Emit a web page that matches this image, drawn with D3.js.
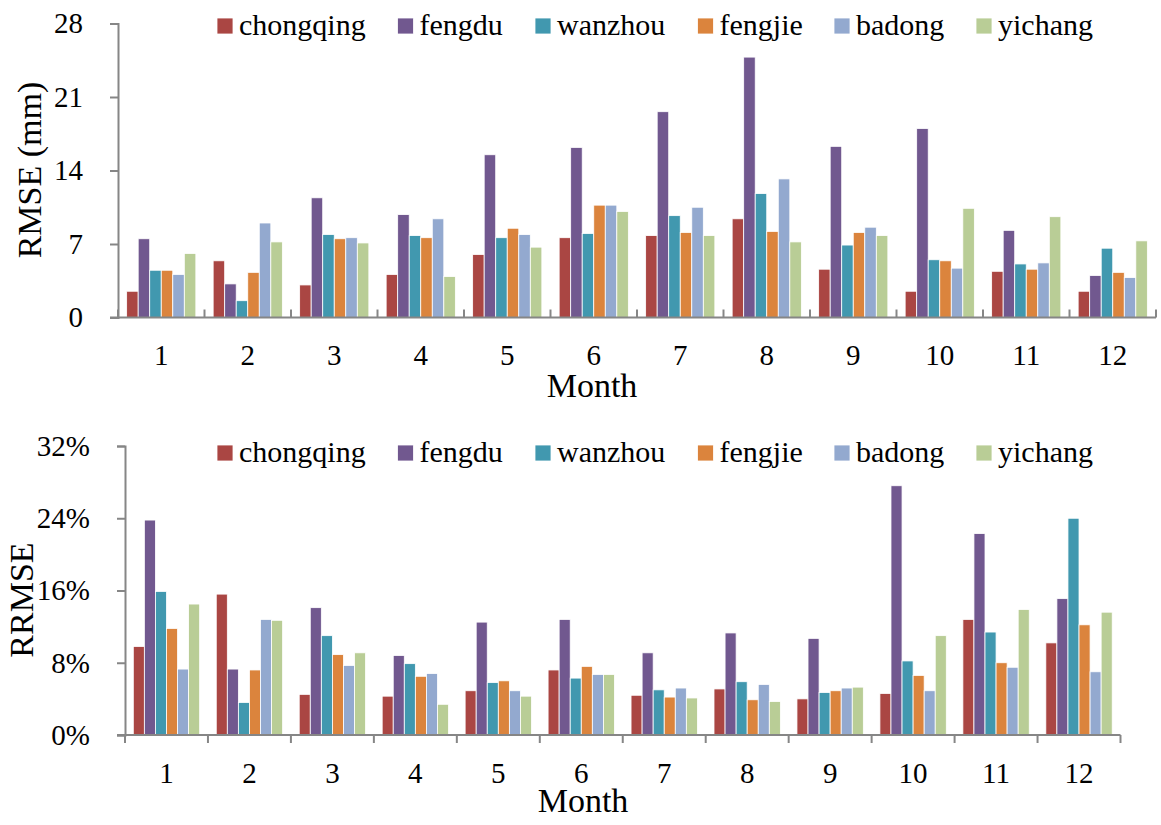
<!DOCTYPE html>
<html>
<head>
<meta charset="utf-8">
<script src="https://cdn.jsdelivr.net/npm/d3@7/dist/d3.min.js"></script>
<style>
  html, body { margin: 0; padding: 0; background: #fff; }
  svg { display: block; }
</style>
</head>
<body>
<svg id="chart" width="1161" height="825"></svg>
<script>
// Monthly error statistics for six stations along the Yangtze
const months = ["1","2","3","4","5","6","7","8","9","10","11","12"];
const stations = ["chongqing","fengdu","wanzhou","fengjie","badong","yichang"];
const stationColors = ["#AA4643","#71588F","#4198AF","#DB843D","#93A9CF","#B9CD96"];

// RMSE (mm), one array per station, month 1..12
const rmseChongqing = [2.5, 5.4, 3.1, 4.1, 6.0, 7.6, 7.8, 9.4, 4.6, 2.5, 4.4, 2.5];
const rmseFengdu    = [7.5, 3.2, 11.4, 9.8, 15.5, 16.2, 19.6, 24.8, 16.3, 18.0, 8.3, 4.0];
const rmseWanzhou   = [4.5, 1.6, 7.9, 7.8, 7.6, 8.0, 9.7, 11.8, 6.9, 5.5, 5.1, 6.6];
const rmseFengjie   = [4.5, 4.3, 7.5, 7.6, 8.5, 10.7, 8.1, 8.2, 8.1, 5.4, 4.6, 4.3];
const rmseBadong    = [4.1, 9.0, 7.6, 9.4, 7.9, 10.7, 10.5, 13.2, 8.6, 4.7, 5.2, 3.8];
const rmseYichang   = [6.1, 7.2, 7.1, 3.9, 6.7, 10.1, 7.8, 7.2, 7.8, 10.4, 9.6, 7.3];

// RRMSE (%), one array per station, month 1..12
const rrmseChongqing = [9.8, 15.6, 4.5, 4.3, 4.9, 7.2, 4.4, 5.1, 4.0, 4.6, 12.8, 10.2];
const rrmseFengdu    = [23.8, 7.3, 14.1, 8.8, 12.5, 12.8, 9.1, 11.3, 10.7, 27.6, 22.3, 15.1];
const rrmseWanzhou   = [15.9, 3.6, 11.0, 7.9, 5.8, 6.3, 5.0, 5.9, 4.7, 8.2, 11.4, 24.0];
const rrmseFengjie   = [11.8, 7.2, 8.9, 6.5, 6.0, 7.6, 4.2, 3.9, 4.9, 6.6, 8.0, 12.2];
const rrmseBadong    = [7.3, 12.8, 7.7, 6.8, 4.9, 6.7, 5.2, 5.6, 5.2, 4.9, 7.5, 7.0];
const rrmseYichang   = [14.5, 12.7, 9.1, 3.4, 4.3, 6.7, 4.1, 3.7, 5.3, 11.0, 13.9, 13.6];

const rmseTicks  = [0, 7, 14, 21, 28];
const rrmseTicks = [0, 8, 16, 24, 32];

const rmseSeries  = [rmseChongqing, rmseFengdu, rmseWanzhou, rmseFengjie, rmseBadong, rmseYichang];
const rrmseSeries = [rrmseChongqing, rrmseFengdu, rrmseWanzhou, rrmseFengjie, rrmseBadong, rrmseYichang];

const FONT = "'Liberation Serif', Tinos, 'Times New Roman', 'Nimbus Roman', 'DejaVu Serif', serif";

const svg = d3.select("#chart");
svg.append("rect").attr("width", 1161).attr("height", 825).attr("fill", "#fff");

const color = d3.scaleOrdinal().domain(stations).range(stationColors);
const AXIS = "#868686";

function label(sel) {
  return sel.style("font-family", FONT).style("fill", "#000");
}

function drawPanel(cfg) {
  const g = svg.append("g");
  const x0 = d3.scaleBand().domain(months).range([cfg.left, cfg.right]).paddingInner(0).paddingOuter(0);
  const bw = x0.bandwidth();
  const gap = bw * 0.2;
  const x1 = d3.scaleBand().domain(stations).range([gap / 2, bw - gap / 2]);
  const y = d3.scaleLinear().domain([cfg.ticks[0], cfg.ticks[cfg.ticks.length - 1]]).range([cfg.bottom, cfg.top]);

  // bars
  stations.forEach((s, si) => {
    g.append("g").selectAll("rect")
      .data(cfg.series[si].map((v, i) => ({ m: months[i], v })))
      .join("rect")
      .attr("x", d => x0(d.m) + x1(s))
      .attr("y", d => y(d.v))
      .attr("width", x1.bandwidth())
      .attr("height", d => y(0) - y(d.v))
      .attr("fill", color(s))
      .attr("stroke", "#ffffff")
      .attr("stroke-width", 0.8);
  });

  // y axis
  const yAxis = d3.axisLeft(y).tickValues(cfg.ticks).tickSize(8).tickPadding(27)
    .tickFormat(cfg.fmt);
  const ya = g.append("g").attr("transform", `translate(${cfg.left},0)`).call(yAxis);
  ya.attr("font-family", null);
  ya.select(".domain").attr("stroke", AXIS).attr("stroke-width", 2);
  ya.selectAll(".tick line").attr("stroke", AXIS).attr("stroke-width", 2);
  label(ya.selectAll(".tick text")).style("font-size", "29px");

  // x axis line with ticks at category boundaries
  const xa = g.append("g");
  xa.append("line")
    .attr("x1", cfg.left - 8).attr("x2", cfg.right)
    .attr("y1", y(0)).attr("y2", y(0))
    .attr("stroke", AXIS).attr("stroke-width", 2);
  const bounds = months.map(m => x0(m)).concat([cfg.right]);
  xa.selectAll("line.bt").data(bounds).join("line")
    .attr("class", "bt")
    .attr("x1", d => d).attr("x2", d => d)
    .attr("y1", y(0)).attr("y2", y(0) + cfg.xTickDir * 8)
    .attr("stroke", AXIS).attr("stroke-width", 2);
  label(xa.selectAll("text").data(months).join("text")
    .attr("x", d => x0(d) + bw / 2)
    .attr("y", cfg.xLabelY)
    .attr("text-anchor", "middle")
    .text(d => d)).style("font-size", "29px");

  // axis titles
  label(g.append("text")
    .attr("x", cfg.monthX).attr("y", cfg.monthY)
    .attr("text-anchor", "middle")
    .text("Month")).style("font-size", "34px");
  label(g.append("text")
    .attr("transform", `translate(${cfg.yTitleX},${cfg.yTitleY}) rotate(-90)`)
    .attr("text-anchor", "middle")
    .text(cfg.yTitle)).style("font-size", "34px");

  // legend
  const legendX = [217, 397.5, 535, 697.5, 834, 976];
  const lg = g.append("g");
  stations.forEach((s, i) => {
    lg.append("rect")
      .attr("x", legendX[i]).attr("y", cfg.legendY - 8)
      .attr("width", 16).attr("height", 16)
      .attr("fill", color(s)).attr("stroke", "#fff").attr("stroke-width", 0.8);
    label(lg.append("text")
      .attr("x", legendX[i] + 22).attr("y", cfg.legendY + 9)
      .text(s)).style("font-size", "30px");
  });
}

drawPanel({
  series: rmseSeries, ticks: rmseTicks, fmt: d => d,
  left: 118, right: 1156, top: 23.5, bottom: 317.5,
  xTickDir: -1, xLabelY: 365, monthX: 592, monthY: 397,
  yTitle: "RMSE (mm)", yTitleX: 41, yTitleY: 170, legendY: 26
});

drawPanel({
  series: rrmseSeries, ticks: rrmseTicks, fmt: d => d + "%",
  left: 125, right: 1120.5, top: 446, bottom: 735,
  xTickDir: 1, xLabelY: 783, monthX: 583, monthY: 812,
  yTitle: "RRMSE", yTitleX: 33, yTitleY: 600, legendY: 453
});
</script>
</body>
</html>
